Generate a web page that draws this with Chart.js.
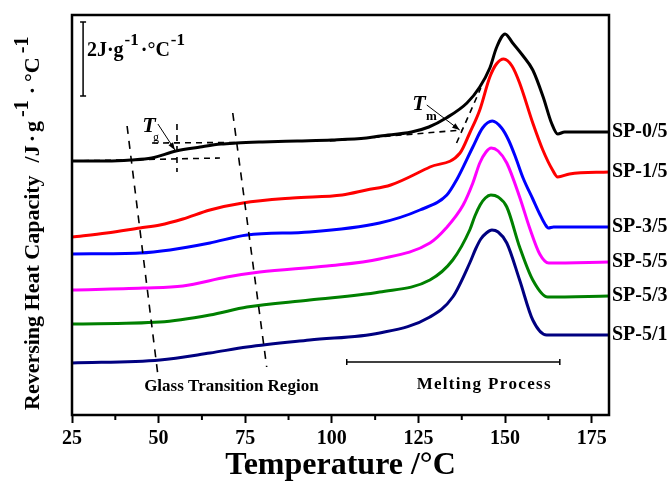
<!DOCTYPE html>
<html>
<head>
<meta charset="utf-8">
<script src="https://cdn.jsdelivr.net/npm/chart.js@4"></script>
<style>
  html, body { margin: 0; padding: 0; background: #fff; }
</style>
</head>
<body>
<canvas id="myChart" width="670" height="481"></canvas>
<script>
// temperatures (°C) and curve heights (arbitrary offset units, 75 units = 2 J/g/°C)
const sp05T = [25, 35, 42, 48, 55, 62, 68, 72.5, 80, 90, 100, 110, 114, 123, 128, 133, 139, 142.7, 145.6, 147.6, 150, 152.2, 155, 158, 161, 163.4, 165.2, 167.2, 180]
const sp05Y = [254, 254, 255, 257, 264, 268, 271, 272, 273, 274, 275, 277, 279, 283, 288, 297, 312, 328, 347, 368, 381, 372, 360, 345, 318, 292, 281, 283, 283]

const sp15T = [25, 35, 44.6, 50.4, 57, 64.8, 74.3, 88.7, 103, 110, 117, 128.3, 137, 139.8, 142.7, 145.6, 147.5, 149.6, 152, 154.2, 158, 160.9, 163.7, 165.2, 168.6, 180]
const sp15Y = [178, 182, 187, 190, 196, 205, 212, 217, 220, 225, 230, 248, 262, 282, 305, 338, 351, 356, 349, 332, 292, 265, 245, 238, 241, 243]

const sp35T = [25, 44.6, 53.3, 64.8, 75.5, 93.6, 113.8, 125.4, 133.2, 136, 140.7, 143.5, 146.3, 149, 151, 153, 155.2, 158, 160, 161.5, 162.5, 164, 180]
const sp35Y = [161, 162, 165, 172, 180, 183, 192, 205, 220, 235, 268, 287, 294, 287, 275, 258, 237, 216, 201, 191, 187, 188, 188]

const sp55T = [25, 45.5, 57, 69.7, 79.2, 98.6, 113.8, 128.3, 133, 137.9, 140.7, 142.7, 144.5, 146, 148, 150.5, 154.2, 157.1, 160, 162.6, 180]
const sp55Y = [125, 127, 129, 138, 143, 149, 156, 172, 187, 210, 232, 252, 263, 267, 264, 252, 218, 187, 161, 152, 153]

const sp53T = [25, 50.4, 64.8, 75.5, 93.6, 113.8, 128.3, 134.9, 139.8, 141.3, 142.8, 144.3, 145.9, 148, 150.5, 154.2, 158, 162.3, 180]
const sp53Y = [91, 93, 100, 108, 115, 123, 135, 155, 185, 199, 210, 217, 220, 218, 208, 168, 135, 118, 119]

const sp51T = [25, 50.4, 64.8, 75.5, 93.6, 113.8, 128.3, 134.9, 139.8, 141.5, 143, 144.6, 146.2, 148, 150.5, 154.2, 158, 162, 180]
const sp51Y = [52, 55, 62, 68, 75, 82, 98, 118, 152, 166, 176, 182, 185, 183, 172, 135, 95, 80, 80]

const names = ['SP-0/5', 'SP-1/5', 'SP-3/5', 'SP-5/5', 'SP-5/3', 'SP-5/1']
const colors = ['#000000', '#ff0000', '#0000ff', '#ff00ff', '#008000', '#000080']
const seriesT = [sp05T, sp15T, sp35T, sp55T, sp53T, sp51T]
const seriesY = [sp05Y, sp15Y, sp35Y, sp55Y, sp53Y, sp51Y]

const xTicks = [25, 50, 75, 100, 125, 150, 175]
const minorTicks = [37.5, 62.5, 87.5, 112.5, 137.5, 162.5]

const serif = '"Liberation Serif", "Times New Roman", serif'

const seg = (ctx, x1, y1, x2, y2) => {
  ctx.beginPath()
  ctx.moveTo(x1, y1)
  ctx.lineTo(x2, y2)
  ctx.stroke()
}

const arrow = (ctx, x1, y1, x2, y2) => {
  seg(ctx, x1, y1, x2, y2)
  const ang = Math.atan2(y2 - y1, x2 - x1)
  ctx.beginPath()
  ctx.moveTo(x2, y2)
  ctx.lineTo(x2 - 8 * Math.cos(ang - 0.35), y2 - 8 * Math.sin(ang - 0.35))
  ctx.lineTo(x2 - 8 * Math.cos(ang + 0.35), y2 - 8 * Math.sin(ang + 0.35))
  ctx.closePath()
  ctx.fill()
}

// text pieces with superscripts, drawn left to right
const parts = (ctx, list, x, y) => {
  list.forEach(p => {
    x += p.gap || 0
    ctx.font = `bold ${p.size}px ${serif}`
    ctx.fillText(p.t, x, y - (p.up || 0))
    x += ctx.measureText(p.t).width
  })
}

// centred text with extra space between letters
const spaced = (ctx, str, cx, cy, sp) => {
  const ws = [...str].map(c => ctx.measureText(c).width)
  const total = ws.reduce((s, w) => s + w, 0) + sp * (str.length - 1)
  let x = cx - total / 2
  ctx.textAlign = 'left'
  ;[...str].forEach((c, i) => {
    ctx.fillText(c, x, cy)
    x += ws[i] + sp
  })
}

const decor = {
  id: 'decor',
  afterDatasetsDraw(chart) {
    const { ctx, chartArea: a, scales: { x, y } } = chart
    const X = v => x.getPixelForValue(v)
    const Y = v => y.getPixelForValue(v)
    ctx.save()
    ctx.fillStyle = '#000'
    ctx.strokeStyle = '#000'

    // frame
    ctx.lineWidth = 2.5
    ctx.strokeRect(a.left, a.top, a.right - a.left, a.bottom - a.top)

    // minor ticks
    ctx.lineWidth = 2
    minorTicks.forEach(t => seg(ctx, X(t), a.bottom, X(t), a.bottom + 5))

    // scale bar
    ctx.lineWidth = 1.5
    seg(ctx, X(28.2), Y(393), X(28.2), Y(319))
    seg(ctx, X(28.2) - 3, Y(393), X(28.2) + 3, Y(393))
    seg(ctx, X(28.2) - 3, Y(319), X(28.2) + 3, Y(319))
    ctx.textBaseline = 'alphabetic'
    ctx.textAlign = 'left'
    parts(ctx, [
      { t: '2J·g', size: 20 },
      { t: '-1', size: 17, up: 11, gap: 1 },
      { t: '·°C', size: 20, gap: 2 },
      { t: '-1', size: 17, up: 11, gap: 1 }
    ], X(29.3), Y(359))

    // glass transition dashed guides
    ctx.lineWidth = 1.6
    ctx.setLineDash([8, 7])
    seg(ctx, X(40.9), Y(289), X(49.9), Y(37))
    seg(ctx, X(71.4), Y(302), X(81.2), Y(48))
    ctx.setLineDash([6, 5])
    seg(ctx, X(48.1), Y(272), X(72), Y(272.5))
    seg(ctx, X(25), Y(254), X(67.7), Y(257))
    seg(ctx, X(55.3), Y(291), X(55.3), Y(243))
    // melting tangents
    seg(ctx, X(99.4), Y(274), X(137.5), Y(285))
    seg(ctx, X(136), Y(272), X(143), Y(327))
    ctx.setLineDash([])

    // Tg and Tm arrows
    ctx.lineWidth = 1
    arrow(ctx, X(49.8), Y(291), X(54.7), Y(265))
    arrow(ctx, X(127.4), Y(310), X(136.9), Y(285))
    ctx.font = `italic bold 22px ${serif}`
    ctx.fillText('T', X(45.3), Y(283))
    ctx.fillText('T', X(123.2), Y(305))
    ctx.font = `12px ${serif}`
    ctx.fillText('g', X(48.4), Y(274))
    ctx.font = `bold 13px ${serif}`
    ctx.fillText('m', X(127.2), Y(295))

    // melting bracket
    ctx.lineWidth = 1.5
    seg(ctx, X(104.3), Y(53), X(165.8), Y(53))
    seg(ctx, X(104.3), Y(53) - 3, X(104.3), Y(53) + 3)
    seg(ctx, X(165.8), Y(53) - 3, X(165.8), Y(53) + 3)

    ctx.textAlign = 'center'
    ctx.textBaseline = 'middle'
    ctx.font = `bold 17px ${serif}`
    ctx.fillText('Glass Transition Region', X(71), Y(28))
    spaced(ctx, 'Melting Process', X(143.8), Y(30), 1.3)

    // series names at the end of each curve
    ctx.textAlign = 'left'
    ctx.font = `bold 20px ${serif}`
    seriesY.forEach((vals, i) => {
      ctx.fillText(names[i], a.right + 3, Y(vals[vals.length - 1]))
    })

    // axis titles
    ctx.textAlign = 'center'
    ctx.font = `bold 32px ${serif}`
    ctx.fillText('Temperature /°C', (a.left + a.right) / 2, 466)

    ctx.save()
    ctx.translate(39, 410)
    ctx.rotate(-Math.PI / 2)
    ctx.textAlign = 'left'
    ctx.textBaseline = 'alphabetic'
    parts(ctx, [
      { t: 'Reversing Heat Capacity', size: 22 },
      { t: '/J', size: 22, gap: 13 },
      { t: '·', size: 22, gap: 3 },
      { t: 'g', size: 22, gap: 3 },
      { t: '-1', size: 20, up: 11, gap: 4 },
      { t: '·', size: 22, gap: 6 },
      { t: '°C', size: 22, gap: 5 },
      { t: '-1', size: 20, up: 11, gap: 4 }
    ], 0, 0)
    ctx.restore()

    ctx.restore()
  }
}

new Chart('myChart', {
  type: 'line',
  data: {
    datasets: names.map((n, i) => ({
      label: n,
      data: seriesT[i].map((t, j) => ({ x: t, y: seriesY[i][j] })),
      borderColor: colors[i],
      borderWidth: 3,
      pointRadius: 0,
      fill: false,
      cubicInterpolationMode: 'monotone'
    }))
  },
  options: {
    responsive: false,
    animation: false,
    layout: { padding: { left: 72, right: 61, top: 15, bottom: 0 } },
    plugins: { legend: { display: false }, tooltip: { enabled: false } },
    scales: {
      x: {
        type: 'linear',
        min: 25,
        max: 180,
        afterBuildTicks: s => { s.ticks = xTicks.map(v => ({ value: v })) },
        afterFit: s => { s.height = 66 },
        grid: { drawOnChartArea: false, tickLength: 8, tickColor: '#000', tickWidth: 2 },
        border: { display: false },
        ticks: { color: '#000', padding: 4, maxRotation: 0, font: { family: serif, size: 20, weight: 'bold' } }
      },
      y: {
        display: false,
        min: 0,
        max: 400
      }
    }
  },
  plugins: [decor]
})
</script>
</body>
</html>
